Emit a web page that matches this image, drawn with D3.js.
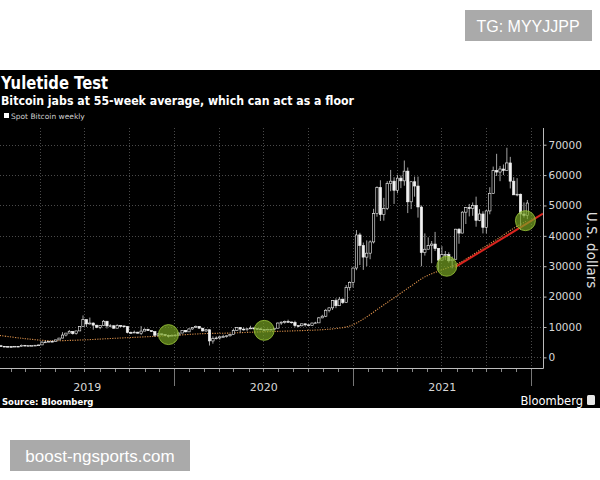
<!DOCTYPE html>
<html>
<head>
<meta charset="utf-8">
<script src="https://cdn.jsdelivr.net/npm/d3@7"></script>
<style>
  body { margin: 0; background: #fff; }
  svg { display: block; }
</style>
</head>
<body>
<div id="chart"></div>
<script>
// weekly candles, week ending fridays, first one below
const firstWeek = "2019-01-04";
const firstOpen = 3700;

const closes2019 = [3820,3650,3600,3570,3450,3650,3600,3980,3820,3880,3920,4000,4100,5000,5070,5280,5200,5750,6350,7350,7990,8550,7800,8700,10200,12400,11000,11300,10600,9900,10500,11900,10350,10400,9600,10500,10350,10200,8200,8150,8300,7950,8650,9250,8800,8500,7300,7750,7550,7200,7150,7250];
const highs2019 = [3900,4100,3720,3680,3600,3700,3700,4200,4000,3950,3960,4070,4150,5350,5470,5350,5600,5800,6400,8300,8050,9000,8600,8750,10200,13800,12500,13100,11500,10700,10600,12300,11900,10900,10600,10900,10600,10400,10200,8500,8800,8400,10300,9550,9400,8800,8500,7850,7750,7600,7500,7600];
const lows2019 = [3700,3580,3500,3500,3380,3400,3580,3600,3700,3750,3830,3930,3950,4100,4950,4950,5050,5150,5700,6300,6900,7950,7500,7500,8700,10200,10000,10800,9100,9600,9300,10500,9500,9900,9400,9600,9900,9800,7900,7800,8000,7900,7400,9000,8700,8400,6800,7000,7150,7050,6500,7100];

const closes2020 = [7350,8000,8900,8400,9350,9800,10200,9600,8700,9100,5400,6200,6400,6750,6850,7100,7500,8800,9800,9300,9150,9400,9650,9450,9350,9150,9080,9250,9150,9600,11300,11600,11800,11650,11500,10450,10400,11050,10700,10550,11300,11350,13000,13550,15500,16300,18700,17000,19150,18050,23000,24700];
const highs2020 = [7500,8200,9000,8950,9600,9900,10500,10300,9700,9200,9100,6900,6900,7000,7450,7200,7700,9450,10000,9950,9850,9600,10400,9950,9650,9750,9300,9450,9300,9650,11500,11800,12100,12400,11700,12050,10550,11100,11100,10950,11400,11700,13300,14000,15950,16400,18800,19400,19900,19350,23800,25000];
const lows2020 = [6850,7300,8000,8250,8400,9100,9700,9500,8500,8400,3900,4500,5900,5850,6700,6500,6850,7450,8700,8150,8800,8600,9300,9100,9200,9000,8900,9050,9050,9150,9550,10700,11100,11500,11150,9900,9900,10200,10150,10400,10500,11200,11300,12900,13250,14800,15600,16200,17000,17600,18000,22000];

const closes2021 = [29400,40300,36800,33000,34300,38000,47300,55900,47000,49000,57200,58000,55000,59000,58100,61300,51200,57800,56400,49500,34500,35600,36800,37300,35800,32000,33800,33800,31800,32300,42200,40900,47800,49300,49000,50000,45100,47200,42800,48200,54000,61500,61000,62000,61500,64000,58000,53500,53700,47200,46700,50800];
const highs2021 = [29600,41900,41000,37800,38500,38500,48900,56300,58300,52500,58000,61700,59300,60100,59900,64800,62500,57900,59500,59500,50000,40800,39500,38300,41300,36000,36600,35000,34600,33200,42300,42500,48100,49500,50500,51000,52900,48800,48100,48500,56000,62800,67000,63000,63500,69000,66000,59300,59000,53900,51000,51800];
const lows2021 = [23000,28700,30400,28800,30000,32300,37500,46300,44900,45000,48500,54700,50500,54000,55700,56500,47500,48800,52900,46000,30000,33500,35600,31000,35000,28800,32700,32100,31200,29300,32600,37400,42800,43900,46400,46600,43000,44800,40800,40800,47100,53900,59700,58000,60000,62300,55600,53500,53000,42000,46000,45500];

// 55-week moving average
const maDates = ["2019-01-04","2019-02-22","2019-04-19","2019-06-21","2019-08-23","2019-10-25","2019-12-27","2020-02-28","2020-04-24","2020-06-26","2020-08-28","2020-10-30","2020-11-27","2020-12-25","2021-01-22","2021-02-26","2021-03-26","2021-04-30","2021-05-28","2021-06-25","2021-07-30","2021-08-27","2021-09-24","2021-10-29","2021-11-26","2021-12-24"];
const maValues = [7300,6300,5500,5700,6200,6700,7200,7800,8000,8400,8700,9100,9500,10300,12600,16500,19600,23500,26500,28400,30500,33000,36000,39500,42500,45000];

// green "test" circles and the red support line
const circleDates = ["2019-12-20","2020-07-03","2021-07-12","2021-12-20"];
const circleValues = [7500,8900,30000,45000];
const trendDates = ["2021-07-29","2022-01-25"];
const trendValues = [29700,47300];

const yTicks = [0,10000,20000,30000,40000,50000,60000,70000];
const yearLabels = ["2019","2020","2021"];

const parse = d3.timeParse("%Y-%m-%d");

const closes = [...closes2019, ...closes2020, ...closes2021];
const highs = [...highs2019, ...highs2020, ...highs2021];
const lows = [...lows2019, ...lows2020, ...lows2021];

const candles = closes.map((c, i) => {
  const o = i === 0 ? firstOpen : closes[i - 1];
  return {
    date: d3.timeDay.offset(parse(firstWeek), i * 7),
    open: o,
    close: c,
    high: Math.max(highs[i], o, c),
    low: Math.min(lows[i], o, c),
  };
});

const W = 600, H = 480;
const plot = { left: 0, right: 543, top: 128, bottom: 368 };

const svg = d3
  .select("#chart")
  .append("svg")
  .attr("width", W)
  .attr("height", H)
  .style("font-family", "'DejaVu Sans', sans-serif");

// black bloomberg panel
svg.append("rect").attr("x", 0).attr("y", 70).attr("width", W).attr("height", 338).attr("fill", "#000");

const x = d3
  .scaleTime()
  .domain([parse("2019-01-09"), parse("2022-01-25")])
  .range([plot.left, plot.right]);

const y = d3.scaleLinear().domain([-3500, 75500]).range([plot.bottom, plot.top]);

const clip = svg.append("clipPath").attr("id", "plotclip");
clip
  .append("rect")
  .attr("x", plot.left)
  .attr("y", plot.top)
  .attr("width", plot.right - plot.left)
  .attr("height", plot.bottom - plot.top);

// grid
const grid = svg.append("g").attr("stroke", "#4a4a4a").attr("stroke-dasharray", "1,2").attr("stroke-width", 1);
grid
  .selectAll("line.h")
  .data(yTicks)
  .enter()
  .append("line")
  .attr("x1", plot.left)
  .attr("x2", plot.right)
  .attr("y1", (d) => Math.round(y(d)) + 0.5)
  .attr("y2", (d) => Math.round(y(d)) + 0.5);
grid
  .selectAll("line.v")
  .data(d3.timeMonth.every(3).range(parse("2019-02-01"), parse("2022-02-01")))
  .enter()
  .append("line")
  .attr("x1", (d) => Math.round(x(d)) + 0.5)
  .attr("x2", (d) => Math.round(x(d)) + 0.5)
  .attr("y1", plot.top)
  .attr("y2", plot.bottom);

const plotG = svg.append("g").attr("clip-path", "url(#plotclip)");

// moving average, dotted orange
plotG
  .append("path")
  .datum(maDates.map((d, i) => ({ date: parse(d), v: maValues[i] })))
  .attr("fill", "none")
  .attr("stroke", "#d98f4a")
  .attr("stroke-width", 1.1)
  .attr("stroke-dasharray", "1.2,1.3")
  .attr("d", d3.line().curve(d3.curveCatmullRom).x((d) => x(d.date)).y((d) => y(d.v)));

// candles: up weeks hollow, down weeks filled
const bw = 2.4;
const cg = plotG.selectAll("g.candle").data(candles).enter().append("g");
cg.append("line")
  .attr("x1", (d) => x(d.date))
  .attr("x2", (d) => x(d.date))
  .attr("y1", (d) => y(d.high))
  .attr("y2", (d) => y(d.low))
  .attr("stroke", "#e8e8e8")
  .attr("stroke-width", 0.7);
cg.append("rect")
  .attr("x", (d) => x(d.date) - bw / 2)
  .attr("width", bw)
  .attr("y", (d) => y(Math.max(d.open, d.close)))
  .attr("height", (d) => Math.max(0.8, Math.abs(y(d.open) - y(d.close))))
  .attr("fill", (d) => (d.close >= d.open ? "#000" : "#f2f2f2"))
  .attr("stroke", "#f2f2f2")
  .attr("stroke-width", 0.6);

// red support line
plotG
  .append("line")
  .attr("x1", x(parse(trendDates[0])))
  .attr("y1", y(trendValues[0]))
  .attr("x2", x(parse(trendDates[1])))
  .attr("y2", y(trendValues[1]))
  .attr("stroke", "#d8241e")
  .attr("stroke-width", 2);

// green circles, see-through like the original
plotG
  .selectAll("circle.test")
  .data(circleDates)
  .enter()
  .append("circle")
  .attr("cx", (d) => x(parse(d)))
  .attr("cy", (d, i) => y(circleValues[i]))
  .attr("r", 10)
  .attr("fill", "#7aa824")
  .attr("fill-opacity", 0.68)
  .attr("stroke", "#9cc83a")
  .attr("stroke-opacity", 0.8)
  .attr("stroke-width", 1);

// axes frame
svg.append("line").attr("x1", plot.left).attr("x2", plot.right + 0.5).attr("y1", plot.bottom + 0.5).attr("y2", plot.bottom + 0.5).attr("stroke", "#bbb");
svg.append("line").attr("x1", plot.right + 0.5).attr("x2", plot.right + 0.5).attr("y1", plot.top).attr("y2", plot.bottom + 0.5).attr("stroke", "#bbb");

// right axis
const yAxis = svg
  .append("g")
  .attr("transform", "translate(" + (plot.right + 0.5) + ",0)")
  .call(d3.axisRight(y).tickValues(yTicks).tickSize(3).tickPadding(2).tickFormat(d3.format("d")));
yAxis.select(".domain").remove();
yAxis.selectAll("line").attr("stroke", "#bbb");
yAxis.selectAll("text").attr("fill", "#d8d8d8").style("font-size", "10.5px").style("font-family", "'DejaVu Sans', sans-serif");

// bottom axis: monthly ticks, taller year separators
svg
  .append("g")
  .selectAll("line")
  .data(d3.timeMonth.range(parse("2019-02-01"), parse("2022-01-02")))
  .enter()
  .append("line")
  .attr("x1", (d) => Math.round(x(d)) + 0.5)
  .attr("x2", (d) => Math.round(x(d)) + 0.5)
  .attr("y1", plot.bottom + 1)
  .attr("y2", plot.bottom + 4)
  .attr("stroke", "#888");
svg
  .append("g")
  .selectAll("line")
  .data(d3.timeYear.range(parse("2020-01-01"), parse("2022-01-02")))
  .enter()
  .append("line")
  .attr("x1", (d) => Math.round(x(d)) + 0.5)
  .attr("x2", (d) => Math.round(x(d)) + 0.5)
  .attr("y1", plot.bottom + 2)
  .attr("y2", plot.bottom + 18)
  .attr("stroke", "#777");
svg
  .append("g")
  .selectAll("text")
  .data(yearLabels)
  .enter()
  .append("text")
  .attr("x", (d) => {
    const a = Math.max(plot.left, x(parse(d + "-01-01")));
    const b = Math.min(plot.right, x(parse(+d + 1 + "-01-01")));
    return (a + b) / 2;
  })
  .attr("y", 391)
  .attr("text-anchor", "middle")
  .attr("fill", "#d8d8d8")
  .style("font-size", "11px")
  .text((d) => d);

// axis title
svg
  .append("text")
  .attr("transform", "translate(587,250) rotate(90)")
  .attr("text-anchor", "middle")
  .attr("fill", "#e0e0e0")
  .style("font-size", "13.5px")
  .text("U.S. dollars");

// titles and legend
svg.append("text").attr("x", 1).attr("y", 89).attr("fill", "#fff").style("font-size", "17px").style("font-weight", "bold")
  .attr("textLength", 107).attr("lengthAdjust", "spacingAndGlyphs").text("Yuletide Test");
svg.append("text").attr("x", 1).attr("y", 105).attr("fill", "#fff").style("font-size", "12px").style("font-weight", "bold")
  .attr("textLength", 353).attr("lengthAdjust", "spacingAndGlyphs").text("Bitcoin jabs at 55-week average, which can act as a floor");
svg.append("rect").attr("x", 4).attr("y", 113).attr("width", 5).attr("height", 5).attr("fill", "#fff");
svg.append("text").attr("x", 11).attr("y", 119).attr("fill", "#cfcfcf").style("font-size", "7.5px").text("Spot Bitcoin weekly");

// footer
svg.append("text").attr("x", 2).attr("y", 405).attr("fill", "#fff").style("font-size", "8.5px").style("font-weight", "bold").text("Source: Bloomberg");
svg.append("text").attr("x", 583).attr("y", 405).attr("text-anchor", "end").attr("fill", "#fff").style("font-size", "11.5px").text("Bloomberg");
svg.append("rect").attr("x", 587).attr("y", 395).attr("width", 8).attr("height", 10).attr("rx", 1.5).attr("fill", "#e8e8e8");

// watermark boxes
svg.append("rect").attr("x", 465).attr("y", 10).attr("width", 127).attr("height", 31).attr("fill", "#aaa");
svg.append("text").attr("x", 528).attr("y", 32).attr("text-anchor", "middle").attr("fill", "#fff")
  .style("font-family", "'Liberation Sans', Arial, sans-serif").style("font-size", "16px").text("TG: MYYJJPP");
svg.append("rect").attr("x", 10).attr("y", 440).attr("width", 180).attr("height", 31).attr("fill", "#aaa");
svg.append("text").attr("x", 100).attr("y", 462).attr("text-anchor", "middle").attr("fill", "#fff")
  .style("font-family", "'Liberation Sans', Arial, sans-serif").style("font-size", "17px").text("boost-ngsports.com");
</script>
</body>
</html>
